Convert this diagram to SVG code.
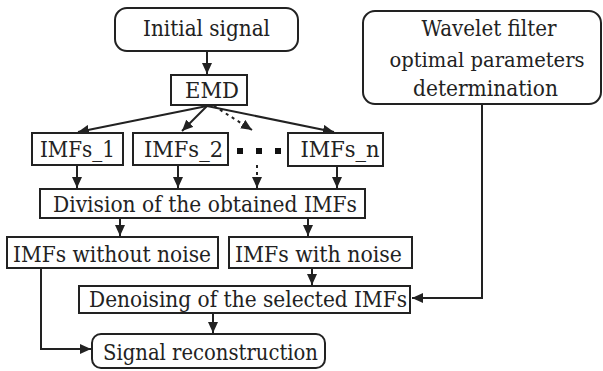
<svg xmlns="http://www.w3.org/2000/svg" width="603" height="371" viewBox="0 0 603 371">
<defs>
<style>
.b{fill:#fff;stroke:#222;stroke-width:2}
.t{font-family:'DejaVu Serif','Liberation Serif',serif;font-size:23px;fill:#222;text-anchor:middle}
.c{fill:none;stroke:#222;stroke-width:2}
.d{fill:none;stroke:#222;stroke-width:2;stroke-dasharray:3 4}
</style>
<marker id="a" markerUnits="userSpaceOnUse" markerWidth="12" markerHeight="10" refX="11" refY="5" orient="auto">
<path d="M0,0 L11,5 L0,10 Z" fill="#222"/>
</marker>
</defs>
<rect width="603" height="371" fill="#fff"/>
<g id="connectors">
<line class="c" x1="207" y1="51" x2="207" y2="74" marker-end="url(#a)"/>
<line class="c" x1="207" y1="106" x2="78" y2="132" marker-end="url(#a)"/>
<line class="c" x1="207" y1="106" x2="182" y2="131" marker-end="url(#a)"/>
<line class="d" x1="214" y1="106" x2="252" y2="130" marker-end="url(#a)"/>
<line class="c" x1="207" y1="106" x2="334" y2="132" marker-end="url(#a)"/>
<line class="c" x1="77" y1="165" x2="77" y2="188" marker-end="url(#a)"/>
<line class="c" x1="178" y1="165" x2="178" y2="188" marker-end="url(#a)"/>
<line class="d" x1="257" y1="165" x2="257" y2="188" marker-end="url(#a)"/>
<line class="c" x1="337" y1="166" x2="337" y2="188" marker-end="url(#a)"/>
<line class="c" x1="120" y1="218" x2="120" y2="236" marker-end="url(#a)"/>
<line class="c" x1="308" y1="218" x2="308" y2="236" marker-end="url(#a)"/>
<line class="c" x1="312" y1="268" x2="312" y2="285" marker-end="url(#a)"/>
<line class="c" x1="213" y1="313" x2="213" y2="333" marker-end="url(#a)"/>
<polyline class="c" points="482,104 482,298 412,298" marker-end="url(#a)"/>
<polyline class="c" points="41,268 41,349 91,349" marker-end="url(#a)"/>
<rect x="237" y="148" width="6" height="6" fill="#111"/>
<rect x="256" y="148" width="6" height="6" fill="#111"/>
<rect x="275" y="148" width="6" height="6" fill="#111"/>
</g>
<g id="initial"><rect class="b" x="115" y="8" width="183" height="43" rx="12"/><text class="t" x="206.5" y="36" textLength="127" lengthAdjust="spacingAndGlyphs">Initial signal</text></g>
<g id="emd"><rect class="b" x="171" y="75" width="76" height="30"/><text class="t" x="212" y="98" textLength="54" lengthAdjust="spacingAndGlyphs">EMD</text></g>
<g id="wavelet"><rect class="b" x="363" y="11" width="238" height="93" rx="12"/><text class="t" x="489" y="36" textLength="135" lengthAdjust="spacingAndGlyphs">Wavelet filter</text><text class="t" x="487" y="67" style="font-size:20px" textLength="195" lengthAdjust="spacingAndGlyphs">optimal parameters</text><text class="t" x="485.5" y="96" textLength="145" lengthAdjust="spacingAndGlyphs">determination</text></g>
<g id="imfs1"><rect class="b" x="32" y="133" width="91" height="32"/><text class="t" x="77.5" y="157" textLength="75" lengthAdjust="spacingAndGlyphs">IMFs_1</text></g>
<g id="imfs2"><rect class="b" x="133" y="133" width="95" height="32"/><text class="t" x="183.5" y="157" textLength="79" lengthAdjust="spacingAndGlyphs">IMFs_2</text></g>
<g id="imfsn"><rect class="b" x="288" y="133" width="95" height="33"/><text class="t" x="340" y="157" textLength="79" lengthAdjust="spacingAndGlyphs">IMFs_n</text></g>
<g id="division"><rect class="b" x="40" y="189" width="325" height="29"/><text class="t" x="205" y="212" textLength="304" lengthAdjust="spacingAndGlyphs">Division of the obtained IMFs</text></g>
<g id="without"><rect class="b" x="7" y="237" width="211" height="31"/><text class="t" x="112" y="262" textLength="198" lengthAdjust="spacingAndGlyphs">IMFs without noise</text></g>
<g id="with"><rect class="b" x="229" y="237" width="183" height="31"/><text class="t" x="318.5" y="262" textLength="167" lengthAdjust="spacingAndGlyphs">IMFs with noise</text></g>
<g id="denoising"><rect class="b" x="79" y="286" width="331" height="27"/><text class="t" x="248" y="307" textLength="318" lengthAdjust="spacingAndGlyphs">Denoising of the selected IMFs</text></g>
<g id="reconstruction"><rect class="b" x="92" y="334" width="233" height="34" rx="9"/><text class="t" x="210.5" y="360" textLength="215" lengthAdjust="spacingAndGlyphs">Signal reconstruction</text></g>
</svg>
